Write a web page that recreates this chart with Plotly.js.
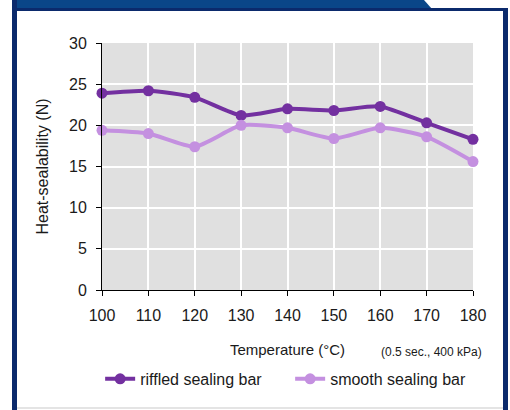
<!DOCTYPE html>
<html>
<head>
<meta charset="utf-8">
<script src="https://cdn.plot.ly/plotly-3.0.1.min.js"></script>
<style>
  html, body { margin:0; padding:0; background:#fff; }
  #wrap { position:relative; width:510px; height:410px; overflow:hidden; background:#fff; }
  #chart { position:absolute; left:0; top:0; width:510px; height:410px; }
  .band { position:absolute; left:12px; top:0; width:420px; height:9px; background:#0a4688;
          clip-path: polygon(0 0, 412px 0, 420px 9px, 0 9px); }
  .topline { position:absolute; left:12px; top:8px; width:496px; height:3px; background:#0b2a6c; }
  .lborder { position:absolute; left:12px; top:0; width:5px; height:410px; background:#0b2a6c; }
  .rborder { position:absolute; left:503px; top:8px; width:5px; height:402px; background:#0b2a6c; }
  .bline { position:absolute; left:17px; top:407px; width:486px; height:2px; background:#e4e4e4; }
</style>
</head>
<body>
<div id="wrap">
  <div id="chart"></div>
  <div class="band"></div>
  <div class="topline"></div>
  <div class="lborder"></div>
  <div class="rborder"></div>
  <div class="bline"></div>
</div>
<script>
const temperatures = [100, 110, 120, 130, 140, 150, 160, 170, 180];
const riffled = [23.9, 24.2, 23.4, 21.2, 22.0, 21.8, 22.3, 20.3, 18.3];
const smooth = [19.4, 19.0, 17.4, 20.0, 19.7, 18.4, 19.7, 18.6, 15.6];
const yTicks = [0, 5, 10, 15, 20, 25, 30];
const seriesNames = ['riffled sealing bar', 'smooth sealing bar'];

const font = 'Arial, "Liberation Sans", sans-serif';

const traces = [
  {
    x: temperatures, y: riffled, name: seriesNames[0], type: 'scatter', mode: 'lines+markers',
    line: { color: '#7330a0', width: 4, shape: 'spline', smoothing: 0.6 },
    marker: { color: '#7330a0', size: 11 }, cliponaxis: false
  },
  {
    x: temperatures, y: smooth, name: seriesNames[1], type: 'scatter', mode: 'lines+markers',
    line: { color: '#c490e0', width: 4, shape: 'spline', smoothing: 0.6 },
    marker: { color: '#c490e0', size: 11 }, cliponaxis: false
  }
];

const layout = {
  width: 510, height: 410,
  margin: { l: 102, r: 37, t: 43, b: 120 },
  paper_bgcolor: 'rgba(0,0,0,0)',
  plot_bgcolor: '#e0e0e0',
  font: { family: font, color: '#1a1a1a', size: 16 },
  showlegend: true,
  legend: {
    orientation: 'h', x: -0.005, xanchor: 'left', y: -0.36, yanchor: 'middle',
    font: { family: font, size: 16, color: '#1a1a1a' },
    bgcolor: 'rgba(0,0,0,0)', entrywidth: 145, entrywidthmode: 'pixels'
  },
  xaxis: {
    range: [100, 180], tickvals: temperatures, ticktext: temperatures.map(String),
    showgrid: true, gridcolor: '#ffffff', gridwidth: 2,
    showline: true, linecolor: '#000', linewidth: 1,
    ticks: 'outside', ticklen: 5, tickcolor: '#000', ticklabelstandoff: 6,
    tickfont: { family: font, size: 16, color: '#1a1a1a' },
    zeroline: false,
    title: { text: 'Temperature (°C)', font: { family: font, size: 15, color: '#1a1a1a' }, standoff: 21 }
  },
  yaxis: {
    range: [0, 30], tickvals: yTicks, ticktext: yTicks.map(String),
    showgrid: true, gridcolor: '#ffffff', gridwidth: 2,
    showline: true, linecolor: '#000', linewidth: 1,
    ticks: 'outside', ticklen: 5, tickcolor: '#000', ticklabelstandoff: 6,
    tickfont: { family: font, size: 16, color: '#1a1a1a' },
    zeroline: false,
    title: { text: 'Heat-sealability (N)', font: { family: font, size: 16, color: '#1a1a1a' }, standoff: 16 }
  },
  annotations: [
    { text: '(0.5 sec., 400 kPa)', xref: 'paper', yref: 'paper', x: 0.888, y: -0.25,
      xanchor: 'center', yanchor: 'middle', showarrow: false,
      font: { family: font, size: 12, color: '#1a1a1a' } }
  ]
};

Plotly.newPlot('chart', traces, layout, { displayModeBar: false, staticPlot: true });
</script>
</body>
</html>
